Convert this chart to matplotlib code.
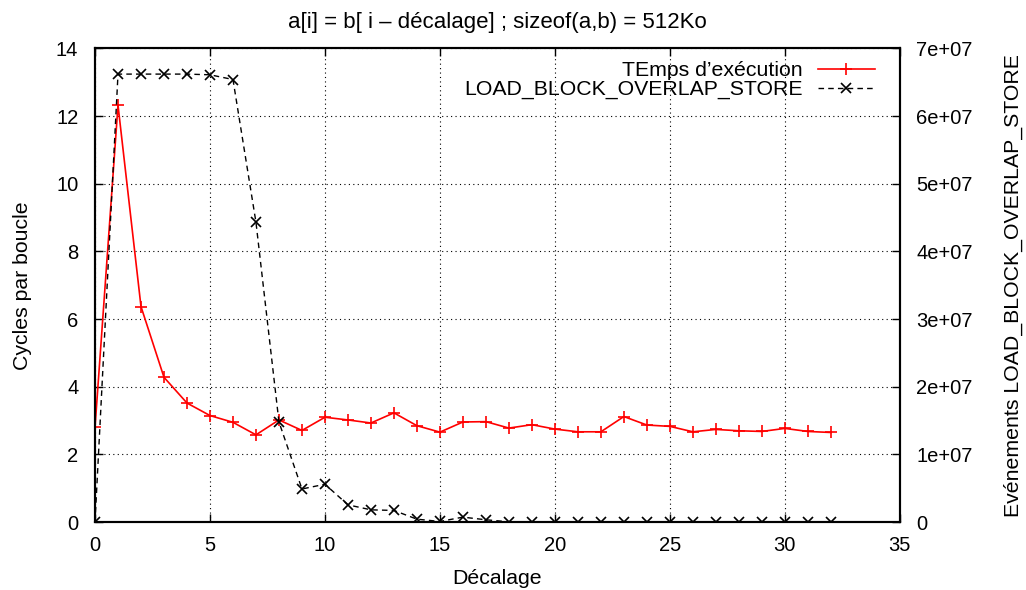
import math
import matplotlib
matplotlib.use("Agg")
import matplotlib.pyplot as plt
from matplotlib.ticker import FuncFormatter

plt.rcParams['font.family'] = ['Liberation Sans', 'DejaVu Sans']
plt.rcParams['font.size'] = 15

decalage = list(range(0, 33))
temps = [2.80, 12.32, 6.37, 4.28, 3.52, 3.15, 2.95, 2.58, 3.02, 2.71, 3.10,
         3.02, 2.93, 3.23, 2.85, 2.66, 2.96, 2.97, 2.78, 2.88, 2.75, 2.67,
         2.67, 3.12, 2.87, 2.83, 2.67, 2.74, 2.70, 2.68, 2.77, 2.68, 2.65]
events = [0, 6.62e7, 6.62e7, 6.62e7, 6.62e7, 6.61e7, 6.54e7, 4.43e7, 1.48e7,
          4.9e6, 5.6e6, 2.56e6, 1.82e6, 1.73e6, 4.4e5, 1e5, 7.4e5, 3.5e5,
          5e4, 5e4, 3e4, 2e4, 2e4, 2e4, 2e4, 2e4, 2e4, 2e4, 2e4, 2e4, 2e4, 2e4, 2e4]

title = "a[i] = b[ i \u2013 décalage] ; sizeof(a,b) = 512Ko"
label_temps = "TEmps d\u2019exécution"
label_events = "LOAD_BLOCK_OVERLAP_STORE"

fig = plt.figure(figsize=(10.26, 5.9), dpi=100)
ax = fig.add_axes([0.0926, 0.115, 0.7844, 0.803])
ax2 = ax.twinx()

l1, = ax.plot(decalage, temps, color='red', lw=1.2, marker='+', ms=9, mew=1.2,
              label=label_temps, zorder=3)
l2, = ax2.plot(decalage, events, color='black', lw=1.0, ls=(0, (4, 3)), marker='x',
               ms=7, mew=1.2, label=label_events, zorder=3)

ax.set_xlim(0, 35)
ax.set_ylim(0, 14)
ax2.set_ylim(0, 7e7)
ax.set_xticks(range(0, 36, 5))
ax.set_yticks(range(0, 15, 2))
ax2.set_yticks([i * 1e7 for i in range(8)])

def sci(v, pos):
    if v == 0:
        return "0"
    e = int(math.floor(math.log10(abs(v)) + 1e-9))
    m = v / 10 ** e
    return f"{m:g}e+{e:02d}"
ax2.yaxis.set_major_formatter(FuncFormatter(sci))

ax.grid(True, color='black', ls=(0, (1, 3)), lw=0.8)
ax.tick_params(axis='y', direction='in', length=6, width=1, right=False, pad=12,
               labelsize=14.5)
ax.tick_params(axis='x', direction='in', length=6, width=1, top=True, pad=10,
               labelsize=14.5)
ax2.tick_params(direction='in', length=6, width=1, pad=12, labelsize=14.5)
for a in (ax, ax2):
    for s in a.spines.values():
        s.set_linewidth(1.5)

ax.set_xlabel("Décalage", labelpad=10, fontsize=15.3)
ax.set_ylabel("Cycles par boucle", labelpad=17, fontsize=15.3)
ax2.set_ylabel("Evénements LOAD_BLOCK_OVERLAP_STORE", labelpad=22, fontsize=15.3)
ax.set_title(title, pad=15, fontsize=16)

leg = ax2.legend(handles=[l1, l2], loc='upper right', frameon=False,
                 markerfirst=False, handlelength=2.7, borderaxespad=0.2,
                 labelspacing=0.0, handletextpad=0.7, fontsize=15.3,
                 bbox_to_anchor=(0.985, 1.0))

fig.savefig("out.png", dpi=100)
